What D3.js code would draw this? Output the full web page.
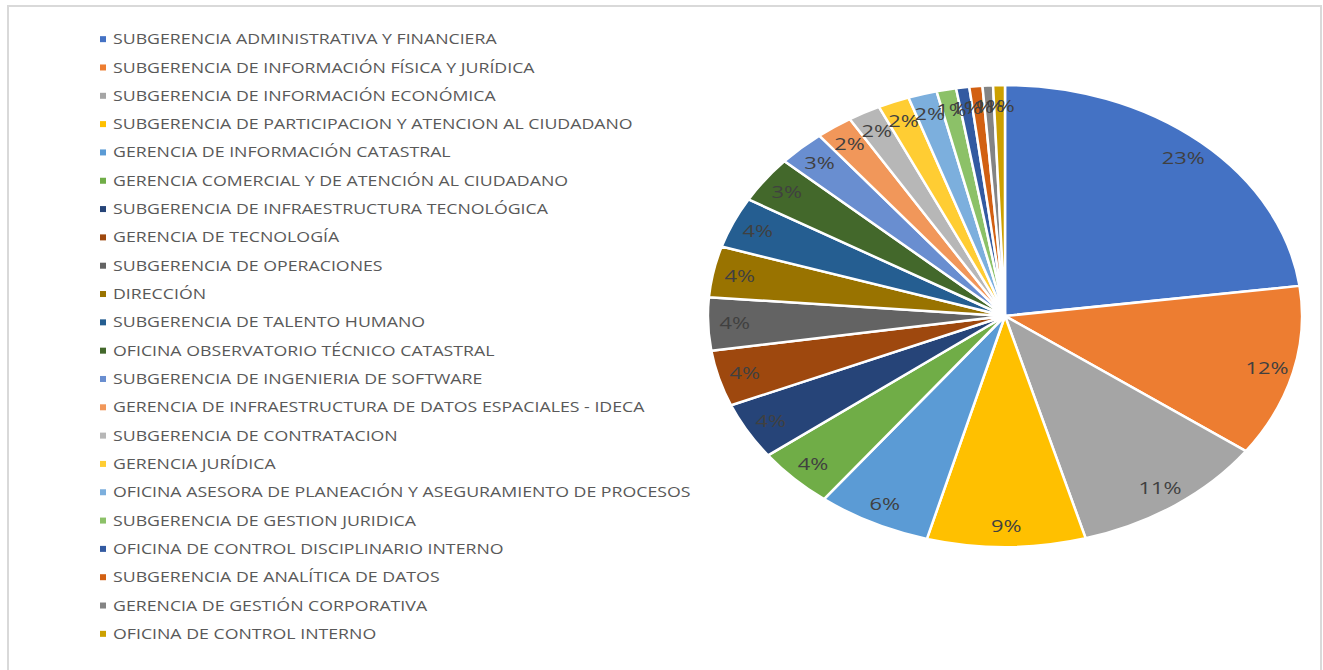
<!DOCTYPE html>
<html>
<head>
<meta charset="utf-8">
<script src="https://cdn.jsdelivr.net/npm/d3@7"></script>
<style>
  body { margin: 0; background: #fff; }
</style>
</head>
<body>
<div id="chart"></div>
<script>
var svgWidth = 1323;
var svgHeight = 670;

// areas, in legend / slice order
var areas = [
  "SUBGERENCIA ADMINISTRATIVA Y FINANCIERA",
  "SUBGERENCIA DE INFORMACIÓN FÍSICA Y JURÍDICA",
  "SUBGERENCIA DE INFORMACIÓN ECONÓMICA",
  "SUBGERENCIA DE PARTICIPACION Y ATENCION AL CIUDADANO",
  "GERENCIA DE INFORMACIÓN CATASTRAL",
  "GERENCIA COMERCIAL Y DE ATENCIÓN AL CIUDADANO",
  "SUBGERENCIA DE INFRAESTRUCTURA TECNOLÓGICA",
  "GERENCIA DE TECNOLOGÍA",
  "SUBGERENCIA DE OPERACIONES",
  "DIRECCIÓN",
  "SUBGERENCIA DE TALENTO HUMANO",
  "OFICINA OBSERVATORIO TÉCNICO CATASTRAL",
  "SUBGERENCIA DE INGENIERIA DE SOFTWARE",
  "GERENCIA DE INFRAESTRUCTURA DE DATOS ESPACIALES - IDECA",
  "SUBGERENCIA DE CONTRATACION",
  "GERENCIA JURÍDICA",
  "OFICINA ASESORA DE PLANEACIÓN Y ASEGURAMIENTO DE PROCESOS",
  "SUBGERENCIA DE GESTION JURIDICA",
  "OFICINA DE CONTROL DISCIPLINARIO INTERNO",
  "SUBGERENCIA DE ANALÍTICA DE DATOS",
  "GERENCIA DE GESTIÓN CORPORATIVA",
  "OFICINA DE CONTROL INTERNO"
];

// estimated counts
var counts = [322, 169, 150, 121, 87, 60, 56, 55, 52, 50, 50, 46, 36, 28, 25, 24, 22, 15, 10, 10, 8, 9];

var colors = [
  "#4472C4", "#ED7D31", "#A5A5A5", "#FFC000", "#5B9BD5", "#70AD47",
  "#264478", "#9E480E", "#636363", "#997300", "#255E91", "#43682B",
  "#698ED0", "#F1975A", "#B7B7B7", "#FFCD33", "#7CAFDD", "#8CC168",
  "#335AA1", "#D26012", "#848484", "#CCA000"
];

var data = areas.map(function(a, i) {
  return { area: a, count: counts[i], color: colors[i] };
});
var total = d3.sum(counts);

var svg = d3.select("#chart")
            .append("svg")
            .attr("width", svgWidth)
            .attr("height", svgHeight);

// chart frame
svg.append("rect")
   .attr("x", 8).attr("y", 6)
   .attr("width", 1313).attr("height", 700)
   .attr("fill", "none")
   .attr("stroke", "#d9d9d9")
   .attr("stroke-width", 2);

// the picture is stretched sideways, so is the pie
var stretch = 1.286;
var radius = 231;

var pieGroup = svg.append("g")
                  .attr("transform", `translate(1005, 316) scale(${stretch}, 1)`);

var pie = d3.pie().value(d => d.count).sort(null);
var arc = d3.arc().innerRadius(0).outerRadius(radius);
var labelArc = d3.arc().innerRadius(radius * 0.91).outerRadius(radius * 0.91);

var arcs = pie(data);

pieGroup.selectAll("path.slice")
        .data(arcs)
        .enter()
        .append("path")
        .attr("class", "slice")
        .attr("d", arc)
        .attr("fill", d => d.data.color)
        .attr("stroke", "#fff")
        .attr("stroke-width", 2.5)
        .attr("vector-effect", "non-scaling-stroke")
        .attr("stroke-linejoin", "round");

pieGroup.selectAll("text.pct")
        .data(arcs)
        .enter()
        .append("text")
        .attr("class", "pct")
        .attr("transform", d => `translate(${labelArc.centroid(d)})`)
        .attr("text-anchor", "middle")
        .attr("dy", "0.36em")
        .attr("font-family", "'Open Sans', sans-serif")
        .attr("font-size", 17)
        .attr("fill", "#404040")
        .text(d => Math.round(d.data.count / total * 100) + "%");

// legend
var legendScale = d3.scaleBand()
                    .domain(areas)
                    .range([25, 648]);

var legend = svg.append("g");

var items = legend.selectAll("g.item")
                  .data(data)
                  .enter()
                  .append("g")
                  .attr("class", "item")
                  .attr("transform", d => `translate(0, ${legendScale(d.area) + legendScale.bandwidth() / 2})`);

items.append("rect")
     .attr("x", 100).attr("y", -3)
     .attr("width", 6).attr("height", 6)
     .attr("fill", d => d.color);

var legendText = legend.append("g");
legendText.selectAll("text")
          .data(data)
          .enter()
          .append("text")
          .attr("x", 0)
          .attr("y", d => legendScale(d.area) + legendScale.bandwidth() / 2)
          .attr("dy", "0.36em")
          .attr("font-family", "'Open Sans', sans-serif")
          .attr("font-size", 14)
          .attr("fill", "#595959")
          .text(d => d.area);

// squeeze the legend text so the first entry spans the width seen in the picture
var firstWidth = legendText.select("text").node().getComputedTextLength();
var sx = 384 / firstWidth;
legendText.attr("transform", `translate(113, 0) scale(${sx}, 1)`);
</script>
</body>
</html>
